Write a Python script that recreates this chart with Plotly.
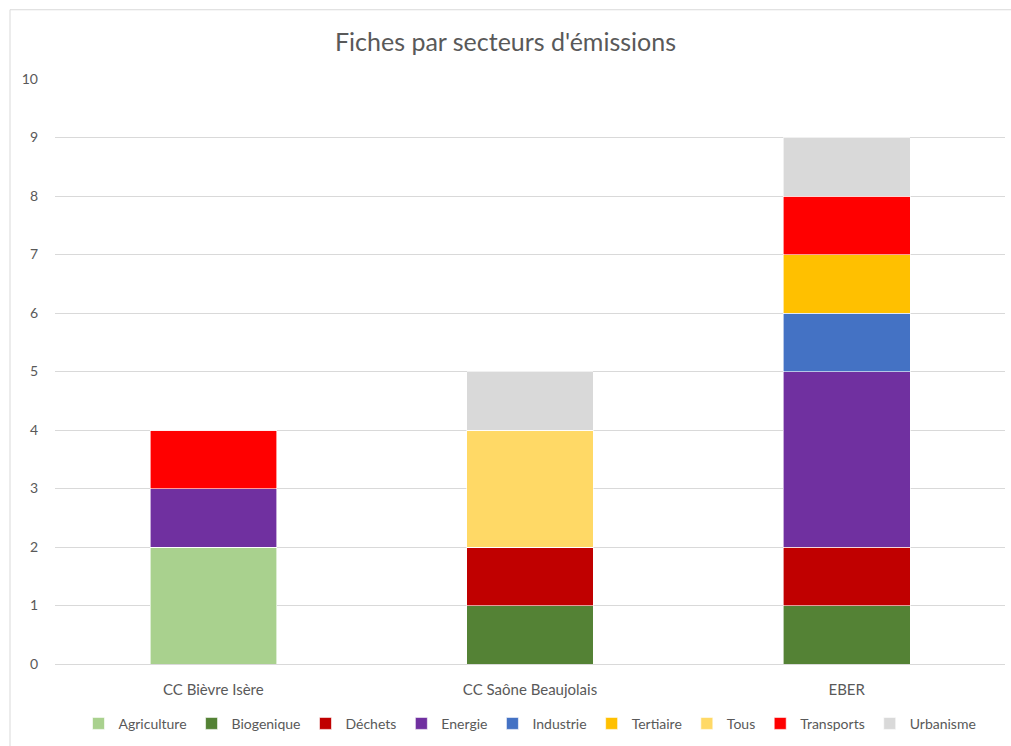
import plotly.graph_objects as go

categories = ["CC Bièvre Isère", "CC Saône Beaujolais", "EBER"]
series_names = ["Agriculture", "Biogenique", "Déchets", "Energie", "Industrie",
                "Tertiaire", "Tous", "Transports", "Urbanisme"]
agriculture = [2, 0, 0]
biogenique = [0, 1, 1]
dechets = [0, 1, 1]
energie = [1, 0, 3]
industrie = [0, 0, 1]
tertiaire = [0, 0, 1]
tous = [0, 2, 0]
transports = [1, 0, 1]
urbanisme = [0, 1, 1]
colors = ["#A9D18E", "#548235", "#C00000", "#7030A0", "#4472C4",
          "#FFC000", "#FFD966", "#FF0000", "#D9D9D9"]
y_ticks = [0, 1, 2, 3, 4, 5, 6, 7, 8, 9, 10]

values = [agriculture, biogenique, dechets, energie, industrie,
          tertiaire, tous, transports, urbanisme]

W, H = 1011, 746
ml, mr, mt, mb = 55, 6, 79, 80
pw, ph = W - ml - mr, H - mt - mb

fig = go.Figure()
for name, vals, col in zip(series_names, values, colors):
    fig.add_trace(go.Bar(
        name=name, x=categories, y=vals, marker_color=col,
        marker_line=dict(color="white", width=0.6),
    ))

def px_x(p):
    return (p - ml) / pw

def px_y(p):
    return (H - mb - p) / ph

fig.update_layout(
    barmode="stack",
    bargap=0.6,
    width=W, height=H,
    margin=dict(l=ml, r=mr, t=mt, b=mb),
    paper_bgcolor="white",
    plot_bgcolor="white",
    font=dict(family="Lato, 'Open Sans', sans-serif", color="#595959", size=14),
    title=dict(text="Fiches par secteurs d'émissions", x=0.5, xanchor="center",
               y=1 - 42 / H, yanchor="middle", yref="container",
               font=dict(size=25, color="#595959")),
    legend=dict(orientation="h", x=0.5, xanchor="center", y=px_y(726),
                yanchor="middle", font=dict(size=14, color="#595959"),
                traceorder="normal", itemwidth=30, tracegroupgap=0),
    shapes=[dict(type="rect", xref="paper", yref="paper",
                 x0=px_x(10), x1=px_x(1030), y0=px_y(770), y1=px_y(9.5),
                 line=dict(color="#D9D9D9", width=1), layer="below")],
)
fig.update_yaxes(range=[0, 10], tickvals=y_ticks, showgrid=True,
                 gridcolor="#D9D9D9", gridwidth=1, zeroline=False,
                 showline=False, ticks="", ticklabelstandoff=16,
                 tickfont=dict(size=14, color="#595959"))
fig.update_xaxes(showline=True, linecolor="#D9D9D9", linewidth=1, ticks="",
                 ticklabelstandoff=12, tickfont=dict(size=15, color="#595959"))

fig.write_html("out.html")
